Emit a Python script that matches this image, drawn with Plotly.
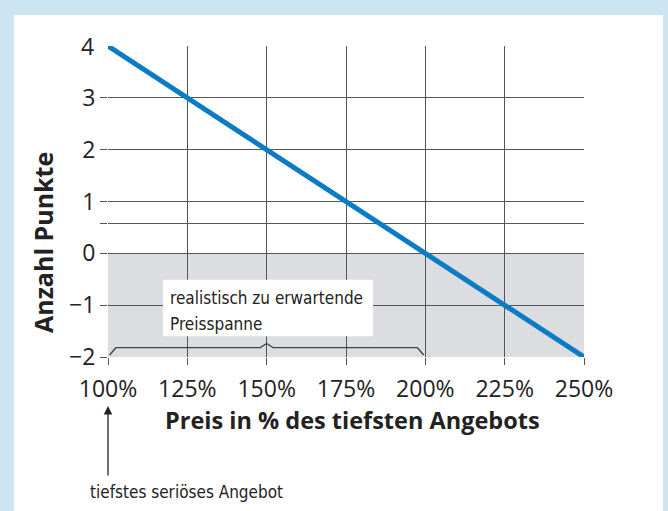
import plotly.graph_objects as go

# ---- data ----
price_pct = [100, 250]          # Preis in % des tiefsten Angebots
points = [4, -2]                # Anzahl Punkte
x_tick_vals = [100, 125, 150, 175, 200, 225, 250]
x_tick_text = ["100%", "125%", "150%", "175%", "200%", "225%", "250%"]
y_tick_vals = [-2, -1, 0, 0.57, 1, 2, 3]
y_tick_text = ["\u22122", "\u22121", "0", "", "1", "2", "3"]
top_label_val = 4
realistic_range = [100, 200]     # realistisch zu erwartende Preisspanne
shade_range = [-2, 0]

# ---- layout geometry (pixels) ----
W, H = 668, 511
L, R, T, B = 108, 84, 46, 154
pw, ph = W - L - R, H - T - B

def px_x(p):
    return (p - L) / pw

def px_y(p):
    return (H - B - p) / ph

grid_col = "#555555"
text_col = "#222222"
bg_col = "#cde4f2"
cond_font = "Liberation Sans Narrow, DejaVu Sans Condensed, Roboto Condensed, sans-serif"
tick_size = 23

fig = go.Figure()
fig.add_trace(go.Scatter(
    x=price_pct, y=points, mode="lines",
    line=dict(color="#0a7cc6", width=5),
    hoverinfo="skip", showlegend=False,
))

shapes = []
# white panel
shapes.append(dict(type="rect", xref="paper", yref="paper",
                   x0=px_x(14), x1=px_x(663), y0=px_y(530), y1=px_y(15),
                   fillcolor="white", line=dict(width=0), layer="below"))
# grey shaded region
shapes.append(dict(type="rect", xref="x", yref="y",
                   x0=price_pct[0], x1=price_pct[-1], y0=shade_range[0], y1=shade_range[1],
                   fillcolor="#dcdde0", line=dict(width=0), layer="below"))
# curly brace
a, b = realistic_range
m = (a + b) / 2
brace = (f"M {a+0.5},-1.96 L {a+2.5},-1.82 L {m-2},-1.82 L {m},-1.74 "
         f"L {m+2},-1.82 L {b-2.5},-1.82 L {b-0.5},-1.96")
shapes.append(dict(type="path", xref="x", yref="y", path=brace,
                   line=dict(color="#444444", width=1.4)))
# text box
shapes.append(dict(type="rect", xref="x", yref="y",
                   x0=117.3, x1=183.5, y0=-1.6, y1=-0.51,
                   fillcolor="white", line=dict(width=0)))

annotations = [
    dict(xref="x", yref="y", x=119.0, y=-0.86, xanchor="left", yanchor="middle",
         text="realistisch zu erwartende", showarrow=False, align="left",
         font=dict(family=cond_font, size=17, color=text_col)),
    dict(xref="x", yref="y", x=119.0, y=-1.36, xanchor="left", yanchor="middle",
         text="Preisspanne", showarrow=False, align="left",
         font=dict(family=cond_font, size=17, color=text_col)),
    dict(xref="paper", yref="y", x=px_x(96), y=top_label_val, xanchor="right", yanchor="middle",
         text=str(top_label_val), showarrow=False,
         font=dict(family="Open Sans", size=tick_size, color=text_col)),
    dict(xref="paper", yref="paper", x=px_x(352), y=px_y(420), xanchor="center", yanchor="middle",
         text="<b>Preis in % des tiefsten Angebots</b>", showarrow=False,
         font=dict(family="Open Sans", size=23.5, color=text_col)),
    dict(xref="paper", yref="paper", x=px_x(43), y=px_y(243), xanchor="center", yanchor="middle",
         text="<b>Anzahl Punkte</b>", showarrow=False, textangle=-90,
         font=dict(family="Open Sans", size=25, color=text_col)),
    dict(xref="x", yref="paper", x=price_pct[0], y=px_y(406), text="", showarrow=True,
         ax=0, ay=71, arrowhead=2, arrowsize=1.3, arrowwidth=1.3, arrowcolor=text_col),
    dict(xref="paper", yref="paper", x=px_x(88), y=px_y(492), xanchor="left", yanchor="middle",
         text="tiefstes seriöses Angebot", showarrow=False,
         font=dict(family=cond_font, size=17, color=text_col)),
]

fig.update_layout(
    width=W, height=H,
    margin=dict(l=L, r=R, t=T, b=B),
    paper_bgcolor=bg_col,
    plot_bgcolor="rgba(0,0,0,0)",
    shapes=shapes,
    annotations=annotations,
    showlegend=False,
    xaxis=dict(range=[100, 250], tickvals=x_tick_vals, ticktext=x_tick_text,
               showgrid=True, gridcolor=grid_col, gridwidth=1, zeroline=False,
               showline=False, ticks="outside", ticklen=7, tickcolor=grid_col,
               ticklabelstandoff=4,
               tickfont=dict(family="Open Sans", size=tick_size, color=text_col)),
    yaxis=dict(range=[-2, 4], tickvals=y_tick_vals, ticktext=y_tick_text,
               showgrid=True, gridcolor=grid_col, gridwidth=1, zeroline=False,
               showline=False, ticks="outside", ticklen=7, tickcolor=grid_col,
               tickfont=dict(family="Open Sans", size=tick_size, color=text_col)),
)

fig.write_html(
    "out.html",
    config={"displayModeBar": False},
    post_script=(
        "document.body.style.margin='0px';"
        "document.body.style.padding='0px';"
        f"document.body.style.background='{bg_col}';"
        "document.body.style.overflow='hidden';"
    ),
)
